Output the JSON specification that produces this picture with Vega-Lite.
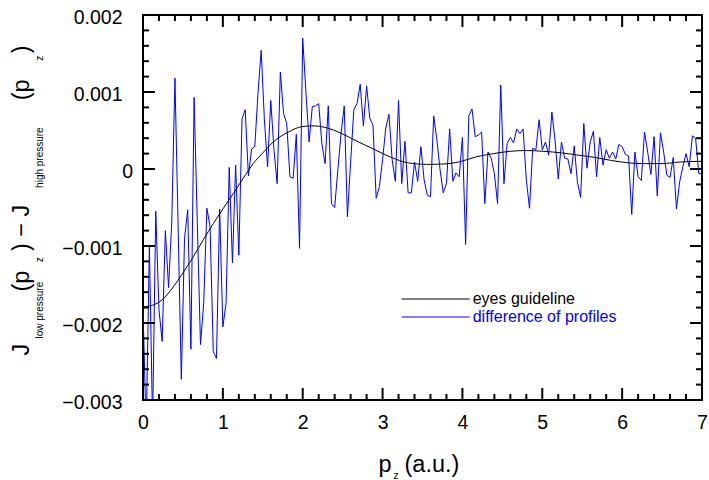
{
 "$schema": "https://vega.github.io/schema/vega-lite/v6.json",
 "width": 559, "height": 385,
 "autosize": {"type": "none"},
 "padding": {"left": 143, "top": 15, "right": 7, "bottom": 80},
 "datasets": {
  "diff": [
   {"x":0,"y":-0.0018},{"x":0.04,"y":-0.0034},{"x":0.08,"y":-0.00101},{"x":0.12,"y":-0.0033},{"x":0.16,"y":-0.00055},{"x":0.2,"y":-0.00183},{"x":0.24,"y":-0.00224},{"x":0.28,"y":-0.0008},{"x":0.32,"y":-0.00154},{"x":0.36,"y":-0.00069},
   {"x":0.4,"y":0.00118},{"x":0.44,"y":-0.00075},{"x":0.48,"y":-0.00273},{"x":0.52,"y":-0.0009},{"x":0.56,"y":-0.00053},{"x":0.6,"y":-0.00234},{"x":0.64,"y":0.00093},{"x":0.68,"y":-0.0007},{"x":0.72,"y":-0.00228},{"x":0.76,"y":-0.00174},
   {"x":0.8,"y":-0.00051},{"x":0.84,"y":-0.00075},{"x":0.88,"y":-0.00237},{"x":0.92,"y":-0.00246},{"x":0.96,"y":-0.00052},{"x":1,"y":-0.00205},{"x":1.04,"y":-0.00174},{"x":1.08,"y":0.00002},{"x":1.12,"y":-0.00122},{"x":1.16,"y":0.00005},
   {"x":1.2,"y":-0.00112},{"x":1.24,"y":0.00065},{"x":1.28,"y":0.00077},{"x":1.32,"y":-0.00009},{"x":1.36,"y":0.00026},{"x":1.4,"y":0.00029},{"x":1.44,"y":0.00099},{"x":1.48,"y":0.00154},{"x":1.52,"y":0.00064},{"x":1.56,"y":0.00003},
   {"x":1.6,"y":0.00089},{"x":1.64,"y":0.00025},{"x":1.68,"y":-0.00019},{"x":1.72,"y":0.00126},{"x":1.76,"y":0.00072},{"x":1.8,"y":0.00059},{"x":1.84,"y":-0.0001},{"x":1.88,"y":-0.00012},{"x":1.92,"y":0.00045},{"x":1.96,"y":-0.00103},
   {"x":2,"y":0.0017},{"x":2.04,"y":0.001},{"x":2.08,"y":0.00035},{"x":2.12,"y":0.00081},{"x":2.16,"y":0.00082},{"x":2.2,"y":0.00085},{"x":2.24,"y":0.00033},{"x":2.28,"y":0.00007},{"x":2.32,"y":0.00082},{"x":2.36,"y":-0.00045},
   {"x":2.4,"y":-0.0005},{"x":2.44,"y":-0.00001},{"x":2.48,"y":0.00046},{"x":2.52,"y":0.00082},{"x":2.56,"y":-0.00062},{"x":2.6,"y":0.00009},{"x":2.64,"y":0.00077},{"x":2.68,"y":0.00085},{"x":2.72,"y":0.0011},{"x":2.76,"y":0.00056},
   {"x":2.8,"y":0.00108},{"x":2.84,"y":0.00066},{"x":2.88,"y":0.00057},{"x":2.92,"y":-0.00038},{"x":2.96,"y":-0.00023},{"x":3,"y":0.00012},{"x":3.04,"y":0.00053},{"x":3.08,"y":0.00071},{"x":3.12,"y":0.00012},{"x":3.16,"y":-0.00016},
   {"x":3.2,"y":0.00089},{"x":3.24,"y":-0.00019},{"x":3.28,"y":0.00036},{"x":3.32,"y":-0.00031},{"x":3.36,"y":-0.00031},{"x":3.4,"y":0.00009},{"x":3.44,"y":-0.00016},{"x":3.48,"y":0.00029},{"x":3.52,"y":-0.00014},{"x":3.56,"y":-0.00034},
   {"x":3.6,"y":-0.00036},{"x":3.64,"y":0.00069},{"x":3.68,"y":0.00038},{"x":3.72,"y":-0.00001},{"x":3.76,"y":-0.00031},{"x":3.8,"y":-0.00019},{"x":3.84,"y":0.00052},{"x":3.88,"y":-0.00016},{"x":3.92,"y":-0.00005},{"x":3.96,"y":-0.0001},
   {"x":4,"y":0.00041},{"x":4.04,"y":-0.00098},{"x":4.08,"y":0.00069},{"x":4.12,"y":0.00078},{"x":4.16,"y":0.00042},{"x":4.2,"y":0.00044},{"x":4.24,"y":0.00048},{"x":4.28,"y":-0.00045},{"x":4.32,"y":0.00022},{"x":4.36,"y":0.00014},
   {"x":4.4,"y":-0.00006},{"x":4.44,"y":-0.00045},{"x":4.48,"y":0.00109},{"x":4.52,"y":-0.00019},{"x":4.56,"y":0.00033},{"x":4.6,"y":0.00041},{"x":4.64,"y":0.00034},{"x":4.68,"y":0.00052},{"x":4.72,"y":0.00046},{"x":4.76,"y":0.00052},
   {"x":4.8,"y":-0.00014},{"x":4.84,"y":-0.00051},{"x":4.88,"y":0.00027},{"x":4.92,"y":0.00025},{"x":4.96,"y":0.00064},{"x":5,"y":0.00025},{"x":5.04,"y":0.00035},{"x":5.08,"y":0.00018},{"x":5.12,"y":0.00074},{"x":5.16,"y":0.00037},
   {"x":5.2,"y":-0.00013},{"x":5.24,"y":0.00035},{"x":5.28,"y":0.00014},{"x":5.32,"y":0.00013},{"x":5.36,"y":-0.00006},{"x":5.4,"y":0.0003},{"x":5.44,"y":-0.00017},{"x":5.48,"y":-0.00037},{"x":5.52,"y":0.00059},{"x":5.56,"y":0.00001},
   {"x":5.6,"y":0.00035},{"x":5.64,"y":0.00049},{"x":5.68,"y":-0.0001},{"x":5.72,"y":0.00041},{"x":5.76,"y":0.00005},{"x":5.8,"y":0.00025},{"x":5.84,"y":0.00014},{"x":5.88,"y":0.00022},{"x":5.92,"y":0.00013},{"x":5.96,"y":0.00032},
   {"x":6,"y":0.00029},{"x":6.04,"y":0.00019},{"x":6.08,"y":0.00017},{"x":6.12,"y":-0.00059},{"x":6.16,"y":0.00022},{"x":6.2,"y":-0.0001},{"x":6.24,"y":-0.00015},{"x":6.28,"y":0.00048},{"x":6.32,"y":0.00022},{"x":6.36,"y":-0.00007},
   {"x":6.4,"y":0.00042},{"x":6.44,"y":-0.00035},{"x":6.48,"y":0.00047},{"x":6.52,"y":0.00022},{"x":6.56,"y":-0.00008},{"x":6.6,"y":-0.00011},{"x":6.64,"y":0.00015},{"x":6.68,"y":-0.00052},{"x":6.72,"y":-0.00017},{"x":6.76,"y":0.00003},
   {"x":6.8,"y":0.0002},{"x":6.84,"y":0.00003},{"x":6.88,"y":0.00043},{"x":6.92,"y":0.0004},{"x":6.96,"y":-0.00006},{"x":7,"y":-0.00006}
  ],
  "guide": [
   {"x":0,"y":-0.00179},{"x":0.08,"y":-0.00178},{"x":0.24,"y":-0.0017},{"x":0.38,"y":-0.00153},{"x":0.5,"y":-0.00135},{"x":0.63,"y":-0.00114},{"x":0.755,"y":-0.00092},{"x":0.88,"y":-0.00071},{"x":1.006,"y":-0.00051},{"x":1.13,"y":-0.00032},
   {"x":1.256,"y":-0.00012},{"x":1.38,"y":0.00007},{"x":1.51,"y":0.00022},{"x":1.63,"y":0.00035},{"x":1.82,"y":0.00048},{"x":1.99,"y":0.00055},{"x":2.13,"y":0.00056},{"x":2.28,"y":0.00054},{"x":2.49,"y":0.00046},{"x":2.7,"y":0.00035},
   {"x":2.905,"y":0.00025},{"x":3.11,"y":0.00015},{"x":3.32,"y":0.00008},{"x":3.55,"y":0.00006},{"x":3.76,"y":0.000065},{"x":3.97,"y":0.000095},{"x":4.18,"y":0.00016},{"x":4.39,"y":0.0002},{"x":4.6,"y":0.00023},{"x":4.8,"y":0.00024},
   {"x":5.01,"y":0.00023},{"x":5.24,"y":0.00021},{"x":5.45,"y":0.00018},{"x":5.66,"y":0.00015},{"x":5.87,"y":0.00011},{"x":6.08,"y":0.00008},{"x":6.29,"y":0.00007},{"x":6.5,"y":0.00007},{"x":6.71,"y":0.00009},{"x":7,"y":0.0001}
  ],
  "xticks": [{"v":0},{"v":0.2},{"v":0.4},{"v":0.6},{"v":0.8},{"v":1},{"v":1.2},{"v":1.4},{"v":1.6},{"v":1.8},{"v":2},{"v":2.2},{"v":2.4},{"v":2.6},{"v":2.8},{"v":3},{"v":3.2},{"v":3.4},{"v":3.6},{"v":3.8},{"v":4},{"v":4.2},{"v":4.4},{"v":4.6},{"v":4.8},{"v":5},{"v":5.2},{"v":5.4},{"v":5.6},{"v":5.8},{"v":6},{"v":6.2},{"v":6.4},{"v":6.6},{"v":6.8},{"v":7}],
  "yticks": [{"v":-0.003},{"v":-0.0028},{"v":-0.0026},{"v":-0.0024},{"v":-0.0022},{"v":-0.002},{"v":-0.0018},{"v":-0.0016},{"v":-0.0014},{"v":-0.0012},{"v":-0.001},{"v":-0.0008},{"v":-0.0006},{"v":-0.0004},{"v":-0.0002},{"v":0},{"v":0.0002},{"v":0.0004},{"v":0.0006},{"v":0.0008},{"v":0.001},{"v":0.0012},{"v":0.0014},{"v":0.0016},{"v":0.0018},{"v":0.002}]
 },
 "layer": [
  {
   "data": {"name": "diff"},
   "mark": {"type": "line", "clip": true, "strokeWidth": 1},
   "encoding": {
    "x": {"field": "x", "type": "quantitative", "scale": {"domain": [0, 7], "nice": false, "zero": false},
     "axis": {"orient": "bottom", "values": [0,1,2,3,4,5,6,7], "ticks": false, "domain": false, "grid": false, "labelFontSize": 19.5, "labelPadding": 13, "labelFlush": false, "labelOverlap": false,
      "title": "p", "titleFontSize": 23.5, "titleFontWeight": "normal", "titleAlign": "left", "titleBaseline": "alphabetic", "titleX": 235, "titleY": 71}},
    "y": {"field": "y", "type": "quantitative", "scale": {"domain": [-0.003, 0.002], "nice": false, "zero": false},
     "axis": {"orient": "left", "values": [-0.003,-0.002,-0.001,0,0.001,0.002], "ticks": false, "domain": false, "grid": false, "labelFontSize": 19.5, "labelFlush": false, "labelOverlap": false, "labelOffset": 2, "labelPadding": 21,
      "labelExpr": "datum.value == 0 ? '' : datum.label",
      "title": "J\u00a0\u00a0\u00a0\u00a0\u00a0\u00a0\u00a0\u00a0(p\u00a0\u00a0\u00a0)\u00a0\u2212\u00a0J\u00a0\u00a0\u00a0\u00a0\u00a0\u00a0\u00a0\u00a0\u00a0\u00a0\u00a0\u00a0\u00a0\u00a0\u00a0\u00a0(p\u00a0\u00a0\u00a0\u00a0)",
      "titleFontSize": 23.5, "titleFontWeight": "normal", "titleAngle": 270, "titleAlign": "left", "titleBaseline": "alphabetic", "titleX": -115, "titleY": 340}},
    "color": {"datum": "difference of profiles", "type": "nominal",
     "scale": {"domain": ["eyes guideline", "difference of profiles"], "range": ["#000000", "#0000ff"]},
     "legend": {"orient": "none", "legendX": 255.7, "legendY": 276, "title": null, "symbolType": "M-1,0H12.6", "symbolSize": 100, "symbolStrokeWidth": 1, "labelFontSize": 16, "labelOffset": 58, "rowPadding": 2, "padding": 0,
      "encode": {"labels": {"update": {"fill": {"signal": "datum.value === 'eyes guideline' ? '#000000' : '#0000ff'"}}}}}}
   }
  },
  {
   "data": {"name": "guide"},
   "mark": {"type": "line", "strokeWidth": 1, "interpolate": "monotone"},
   "encoding": {
    "x": {"field": "x", "type": "quantitative",
     "axis": {"orient": "bottom", "values": [0], "ticks": false, "labels": false, "domain": false, "grid": false,
      "title": "z", "titleFontSize": 10, "titleFontWeight": "normal", "titleAlign": "left", "titleBaseline": "alphabetic", "titleX": 250, "titleY": 78}},
    "y": {"field": "y", "type": "quantitative",
     "axis": {"orient": "left", "values": [0], "ticks": false, "labels": false, "domain": false, "grid": false,
      "title": "low pressure\u00a0\u00a0\u00a0\u00a0\u00a0\u00a0\u00a0z\u00a0\u00a0\u00a0\u00a0\u00a0\u00a0\u00a0\u00a0\u00a0\u00a0\u00a0\u00a0\u00a0\u00a0\u00a0\u00a0\u00a0\u00a0\u00a0\u00a0\u00a0\u00a0\u00a0\u00a0\u00a0high pressure\u00a0\u00a0\u00a0\u00a0\u00a0\u00a0\u00a0\u00a0\u00a0\u00a0\u00a0\u00a0\u00a0\u00a0\u00a0\u00a0\u00a0\u00a0\u00a0\u00a0\u00a0\u00a0\u00a0\u00a0z",
      "titleFontSize": 10, "titleFontWeight": "normal", "titleAngle": 270, "titleAlign": "left", "titleBaseline": "alphabetic", "titleX": -101, "titleY": 323}},
    "color": {"datum": "eyes guideline", "type": "nominal",
     "legend": {"orient": "none", "legendX": 255.7, "legendY": 276, "title": null, "symbolType": "M-1,0H12.6", "symbolSize": 100, "symbolStrokeWidth": 1, "labelFontSize": 16, "labelOffset": 58, "rowPadding": 2, "padding": 0,
      "encode": {"labels": {"update": {"fill": {"signal": "datum.value === 'eyes guideline' ? '#000000' : '#0000ff'"}}}}}}
   }
  },
  {
   "data": {"name": "guide"},
   "mark": {"type": "line", "opacity": 0},
   "encoding": {
    "x": {"field": "x", "type": "quantitative",
     "axis": {"orient": "bottom", "values": [0], "ticks": false, "labels": false, "domain": false, "grid": false,
      "title": "(a.u.)", "titleFontSize": 23.5, "titleFontWeight": "normal", "titleAlign": "left", "titleBaseline": "alphabetic", "titleX": 261, "titleY": 71}},
    "y": {"field": "y", "type": "quantitative",
     "axis": {"orient": "left", "values": [0], "ticks": false, "domain": false, "grid": false, "title": null,
      "labelExpr": "'0'", "labelFontSize": 19.5, "labelPadding": 10.3, "labelOffset": 2, "labelOverlap": false, "labelFlush": false}}
   }
  },
  {
   "data": {"name": "xticks"},
   "mark": {"type": "point", "shape": "M0,0V-2", "filled": false, "color": "#000000", "strokeWidth": 2, "opacity": 1},
   "encoding": {
    "x": {"field": "v", "type": "quantitative", "axis": null},
    "y": {"datum": -0.003, "type": "quantitative", "axis": null},
    "size": {"condition": {"test": "abs(datum.v - round(datum.v)) < 0.01", "value": 144}, "value": 36}
   }
  },
  {
   "data": {"name": "xticks"},
   "mark": {"type": "point", "shape": "M0,0V2", "filled": false, "color": "#000000", "strokeWidth": 2, "opacity": 1},
   "encoding": {
    "x": {"field": "v", "type": "quantitative", "axis": null},
    "y": {"datum": 0.002, "type": "quantitative", "axis": null},
    "size": {"condition": {"test": "abs(datum.v - round(datum.v)) < 0.01", "value": 144}, "value": 36}
   }
  },
  {
   "data": {"name": "yticks"},
   "mark": {"type": "point", "shape": "M0,0H2", "filled": false, "color": "#000000", "strokeWidth": 2, "opacity": 1},
   "encoding": {
    "y": {"field": "v", "type": "quantitative", "axis": null},
    "x": {"datum": 0, "type": "quantitative", "axis": null},
    "size": {"condition": {"test": "abs(datum.v*1000 - round(datum.v*1000)) < 0.01", "value": 144}, "value": 36}
   }
  },
  {
   "data": {"name": "yticks"},
   "mark": {"type": "point", "shape": "M0,0H-2", "filled": false, "color": "#000000", "strokeWidth": 2, "opacity": 1},
   "encoding": {
    "y": {"field": "v", "type": "quantitative", "axis": null},
    "x": {"datum": 7, "type": "quantitative", "axis": null},
    "size": {"condition": {"test": "abs(datum.v*1000 - round(datum.v*1000)) < 0.01", "value": 144}, "value": 36}
   }
  }
 ],
 "resolve": {"axis": {"x": "independent", "y": "independent"}},
 "config": {
  "font": "Liberation Sans",
  "view": {"stroke": "#000000", "strokeWidth": 2},
  "axis": {"labelFont": "Liberation Sans", "titleFont": "Liberation Sans", "labelColor": "#000000", "titleColor": "#000000"},
  "legend": {"labelFont": "Liberation Sans", "labelColor": "#000000"}
 }
}
